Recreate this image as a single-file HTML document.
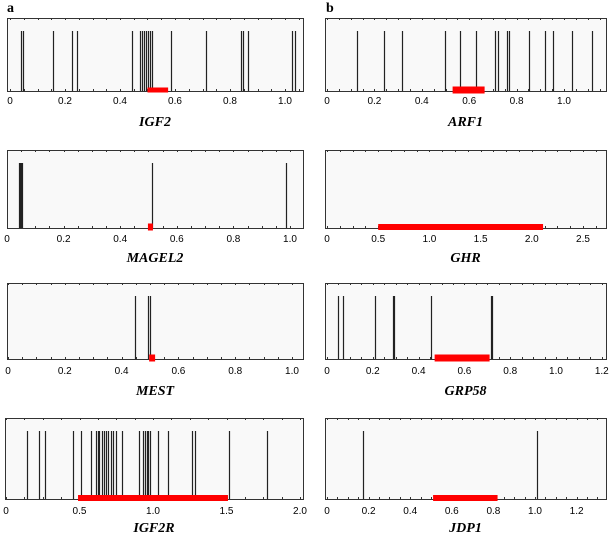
<!DOCTYPE html>
<html><head><meta charset="utf-8">
<style>
html,body{margin:0;padding:0;background:#fff;}
svg{display:block;}
.tl{font-family:"Liberation Sans",sans-serif;font-size:10px;fill:#000;}
.gn{font-family:"Liberation Serif",serif;font-size:14px;font-style:italic;font-weight:bold;fill:#000;}
.pl{font-family:"Liberation Serif",serif;font-size:14px;font-weight:bold;fill:#000;}
</style></head>
<body>
<svg id="fig" width="614" height="535" viewBox="0 0 614 535" xmlns="http://www.w3.org/2000/svg">
<text class="pl" x="7" y="12">a</text>
<text class="pl" x="326" y="12">b</text>
</svg>
<script>
const geneNames = ["IGF2","MAGEL2","MEST","IGF2R","ARF1","GHR","GRP58","JDP1"];
const igf2Sites = [0.039,0.049,0.158,0.224,0.242,0.442,0.473,0.479,0.487,0.494,0.503,0.509,0.518,0.584,0.712,0.839,0.846,0.867,1.025,1.038];
const magel2Sites = [0.044,0.047,0.050,0.054,0.513,0.986];
const mestSites = [0.447,0.492,0.500];
const igf2rSites = [0.145,0.227,0.265,0.454,0.510,0.578,0.612,0.624,0.635,0.651,0.667,0.680,0.696,0.714,0.730,0.748,0.787,0.907,0.934,0.946,0.957,0.968,0.980,1.032,1.104,1.263,1.286,1.519,1.773];
const arf1Sites = [0.127,0.239,0.316,0.497,0.563,0.629,0.710,0.720,0.759,0.768,0.854,0.920,0.954,1.034,1.120];
const ghrSites = [];
const grp58Sites = [0.047,0.068,0.208,0.287,0.294,0.456,0.715,0.722];
const jdp1Sites = [0.173,1.01];
const igf2Region = [0.50,0.575];
const magel2Region = [0.498,0.515];
const mestRegion = [0.497,0.518];
const igf2rRegion = [0.49,1.51];
const arf1Region = [0.53,0.665];
const ghrRegion = [0.5,2.11];
const grp58Region = [0.47,0.71];
const jdp1Region = [0.51,0.82];
const ticks1 = ["0","0.2","0.4","0.6","0.8","1.0"];
const ticksIGF2R = ["0","0.5","1.0","1.5","2.0"];
const ticksGHR = ["0","0.5","1.0","1.5","2.0","2.5"];
const ticks12 = ["0","0.2","0.4","0.6","0.8","1.0","1.2"];

const NS="http://www.w3.org/2000/svg";
const svg=document.getElementById('fig');
function mk(tag,attrs,parent){const e=document.createElementNS(NS,tag);for(const k in attrs)e.setAttribute(k,attrs[k]);(parent||svg).appendChild(e);return e;}

const panels=[
 {name:geneNames[0],sites:igf2Sites,region:igf2Region,ticks:ticks1,x0:10,ppu:275,bl:7,br:303,top:18,bot:91,lt:31,lab:104,gn:126,rh:5},
 {name:geneNames[1],sites:magel2Sites,region:magel2Region,ticks:ticks1,x0:7,ppu:283,bl:7,br:303,top:150,bot:228,lt:163,lab:242,gn:262,rh:7},
 {name:geneNames[2],sites:mestSites,region:mestRegion,ticks:ticks1,x0:8,ppu:284,bl:7,br:303,top:283,bot:359,lt:296,lab:374,gn:395,rh:7},
 {name:geneNames[3],sites:igf2rSites,region:igf2rRegion,ticks:ticksIGF2R,x0:6,ppu:147,bl:5,br:303,top:418,bot:499,lt:431,lab:514,gn:532,rh:6},
 {name:geneNames[4],sites:arf1Sites,region:arf1Region,ticks:ticks1,x0:327,ppu:237,bl:325,br:606,top:18,bot:91,lt:31,lab:104,gn:126,rh:7},
 {name:geneNames[5],sites:ghrSites,region:ghrRegion,ticks:ticksGHR,x0:327,ppu:102.4,bl:325,br:606,top:150,bot:228,lt:163,lab:242,gn:262,rh:6},
 {name:geneNames[6],sites:grp58Sites,region:grp58Region,ticks:ticks12,x0:327,ppu:229,bl:325,br:606,top:283,bot:359,lt:296,lab:374,gn:395,rh:7},
 {name:geneNames[7],sites:jdp1Sites,region:jdp1Region,ticks:ticks12,x0:327,ppu:208,bl:325,br:606,top:418,bot:499,lt:431,lab:514,gn:532,rh:6}
];

panels.forEach(p=>{
  const key=p.name.toLowerCase();
  const g=mk('g',{});
  
  
  const sx=v=>p.x0+v*p.ppu;
  const box=mk('rect',{x:p.bl+0.5,y:p.top+0.5,width:p.br-p.bl,height:p.bot-p.top,fill:'#f9f9f9',stroke:'#333','stroke-width':1},g);
  
  
  // ticks
  const step=parseFloat(p.ticks[1]);
  const maxV=(p.br-p.x0)/p.ppu;
  for(let v=0;v<=maxV+1e-9;v+=step/4){
    const x=Math.round(sx(v))+0.5;
    mk('line',{x1:x,x2:x,y1:p.top,y2:p.top+2,stroke:'#333','stroke-width':1},g);
    mk('line',{x1:x,x2:x,y1:p.bot-2,y2:p.bot,stroke:'#333','stroke-width':1},g);
  }
  p.ticks.forEach(t=>{
    const tx=mk('text',{x:sx(parseFloat(t)),y:p.lab,'text-anchor':'middle',class:'tl'},g);
    tx.textContent=t;
    
    
  });
  p.sites.forEach(v=>{
    const x=Math.round(sx(v))+0.5;
    const l=mk('line',{x1:x,x2:x,y1:p.lt,y2:p.bot,stroke:'#222','stroke-width':1.2},g);
    
    
  });
  const r0=sx(p.region[0]),r1=sx(p.region[1]);
  const rr=mk('rect',{x:r0,y:p.bot-p.rh/2-1,width:Math.max(r1-r0,5),height:p.rh,fill:'#ff0000'},g);
  
  
  const n=mk('text',{x:(p.bl+p.br)/2,y:p.gn,'text-anchor':'middle',class:'gn'},g);
  n.textContent=p.name;
  
  
});
</script>
</body></html>
